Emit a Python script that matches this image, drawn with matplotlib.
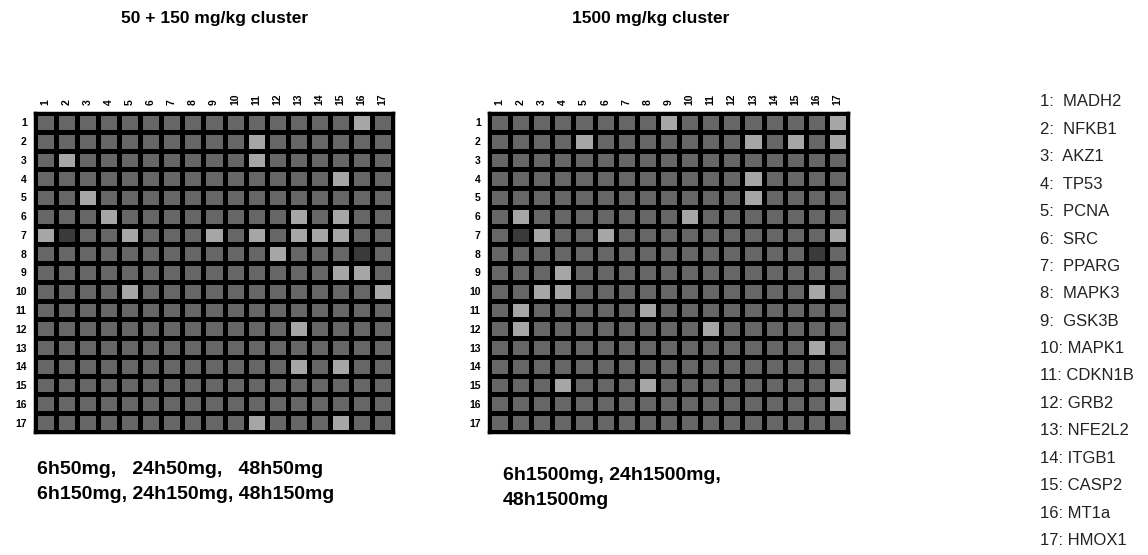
import numpy as np
import matplotlib.pyplot as plt
from matplotlib.colors import ListedColormap, BoundaryNorm

plt.rcParams['font.family'] = ['Liberation Sans Narrow', 'Liberation Sans', 'DejaVu Sans']

genes = ["MADH2", "NFKB1", "AKZ1", "TP53", "PCNA", "SRC", "PPARG", "MAPK3",
         "GSK3B", "MAPK1", "CDKN1B", "GRB2", "NFE2L2", "ITGB1", "CASP2",
         "MT1a", "HMOX1"]
n = len(genes)

# (row, col) 1-based, light = 1, dark = -1, rest 0
light_low = [(1, 16), (2, 11), (3, 2), (3, 11), (4, 15), (5, 3), (6, 4), (6, 13), (6, 15),
             (7, 1), (7, 5), (7, 9), (7, 11), (7, 13), (7, 14), (7, 15), (8, 12),
             (9, 15), (9, 16), (10, 5), (10, 17), (12, 13), (14, 13), (14, 15),
             (17, 11), (17, 15)]
dark_low = [(7, 2), (8, 16)]
light_high = [(1, 9), (1, 17), (2, 5), (2, 13), (2, 15), (2, 17), (4, 13), (5, 13),
              (6, 2), (6, 10), (7, 3), (7, 6), (7, 17), (9, 4), (10, 3), (10, 4),
              (10, 16), (11, 2), (11, 8), (12, 2), (12, 11), (13, 16), (15, 4),
              (15, 8), (15, 17), (16, 17)]
dark_high = [(7, 2), (8, 16)]

titles = ["50 + 150 mg/kg cluster", "1500 mg/kg cluster"]
notes = ["6h50mg,   24h50mg,   48h50mg\n6h150mg, 24h150mg, 48h150mg",
         "6h1500mg, 24h1500mg,\n48h1500mg"]


def build(light, dark):
    m = np.zeros((n, n))
    for r, c in light:
        m[r - 1, c - 1] = 1
    for r, c in dark:
        m[r - 1, c - 1] = -1
    return m


mats = [build(light_low, dark_low), build(light_high, dark_high)]

cmap = ListedColormap(["#3a3a3a", "#666666", "#a6a6a6"])
norm = BoundaryNorm([-1.5, -0.5, 0.5, 1.5], cmap.N)

fig = plt.figure(figsize=(11.48, 5.55), dpi=100)
boxes = [[35 / 1148, 123 / 555, 358 / 1148, 319 / 555],
         [489 / 1148, 123 / 555, 359 / 1148, 319 / 555]]
title_x = [215 / 1148, 651 / 1148]
note_x = [37 / 1148, 503 / 1148]
note_y = [1 - 461 / 555, 1 - 467 / 555]

for k in range(2):
    ax = fig.add_axes(boxes[k])
    ax.pcolormesh(np.arange(n + 1) + 0.5, np.arange(n + 1) + 0.5, mats[k],
                  cmap=cmap, norm=norm, edgecolors="k", linewidth=2.2)
    ax.set_xlim(0.5, n + 0.5)
    ax.set_ylim(n + 0.5, 0.5)
    ax.set_xticks(range(1, n + 1))
    ax.set_yticks(range(1, n + 1))
    ax.set_xticklabels([str(i) for i in range(1, n + 1)], rotation=90,
                       fontsize=7.5, fontweight="bold")
    ax.set_yticklabels([str(i) for i in range(1, n + 1)], fontsize=7.5, fontweight="bold")
    ax.xaxis.tick_top()
    ax.tick_params(length=0, pad=6)
    for s in ax.spines.values():
        s.set_linewidth(2.5)
    fig.text(title_x[k], 1 - 18 / 555, titles[k], ha="center", va="center",
             fontsize=12.5, fontweight="bold")
    fig.text(note_x[k], note_y[k], notes[k], ha="left", va="top",
             fontsize=14, fontweight="bold", linespacing=1.6)

for i, g in enumerate(genes):
    lab = f"{i + 1}:  {g}" if i < 9 else f"{i + 1}: {g}"
    fig.text(1040 / 1148, 1 - (102 + i * 27.4) / 555, lab, ha="left", va="center",
             fontsize=12, family=["Liberation Sans", "DejaVu Sans"], color="#222222")

fig.savefig("out.png", dpi=100)
